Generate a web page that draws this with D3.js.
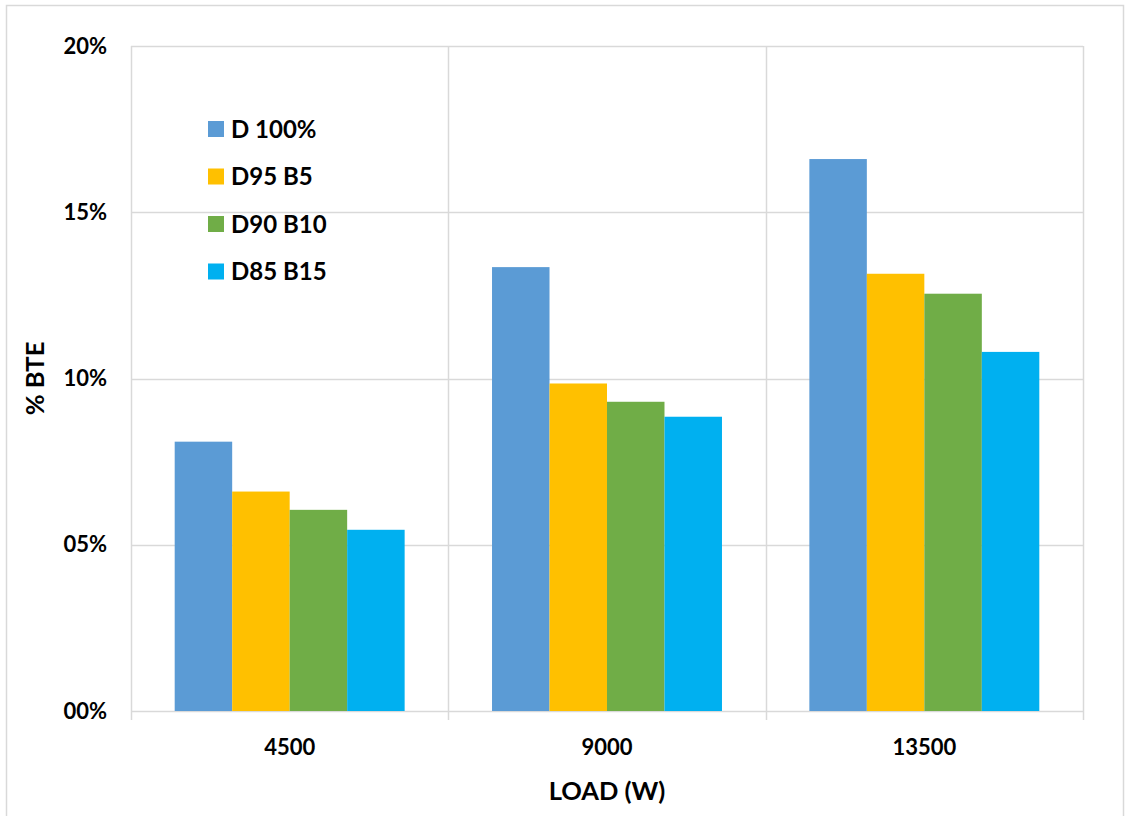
<!DOCTYPE html>
<html>
<head>
<meta charset="utf-8">
<script src="https://cdn.jsdelivr.net/npm/d3@7"></script>
<style>
  html, body { margin: 0; padding: 0; background: #fff; }
  svg { display: block; font-family: Lato, "Open Sans", sans-serif; font-weight: bold; }
</style>
</head>
<body>
<svg id="chart" width="1125" height="816"></svg>
<script>
// Engine load categories (W)
const loads = ["4500", "9000", "13500"];
// Fuel blends
const blends = ["D 100%", "D95 B5", "D90 B10", "D85 B15"];
const blendColors = ["#5B9BD5", "#FFC000", "#70AD47", "#00B0F0"];
// Brake thermal efficiency (%) per blend, one value per load
const bteD100 = [8.1, 13.35, 16.6];
const bteD95B5 = [6.6, 9.85, 13.15];
const bteD90B10 = [6.05, 9.3, 12.55];
const bteD85B15 = [5.45, 8.85, 10.8];
const yTicks = [0, 5, 10, 15, 20];

const series = [bteD100, bteD95B5, bteD90B10, bteD85B15];

const svg = d3.select("#chart");
const W = 1125, H = 816;
const margin = { left: 131, right: 42, top: 46, bottom: 105 };
const plotW = W - margin.left - margin.right;
const plotH = H - margin.top - margin.bottom;
const grid = "#d9d9d9";

// Outer chart border
svg.append("rect")
  .attr("x", 6.5).attr("y", 5.5)
  .attr("width", 1117).attr("height", 830)
  .attr("fill", "none").attr("stroke", grid).attr("stroke-width", 1.5);

const g = svg.append("g").attr("transform", `translate(${margin.left},${margin.top})`);

const x0 = d3.scaleBand().domain(loads).range([0, plotW]).paddingInner(0).paddingOuter(0);
const x1 = d3.scaleBand().domain(blends).range([0, x0.bandwidth()]).paddingInner(0).paddingOuter(0.76);
const y = d3.scaleLinear().domain([0, 20]).range([plotH, 0]);

// Horizontal gridlines
g.append("g").selectAll("line").data(yTicks).join("line")
  .attr("x1", 0).attr("x2", plotW)
  .attr("y1", d => Math.round(y(d)) + 0.5).attr("y2", d => Math.round(y(d)) + 0.5)
  .attr("stroke", grid).attr("stroke-width", 1.5);

// Vertical gridlines at category boundaries, extending below the baseline as ticks
const bounds = loads.map(l => x0(l)).concat([plotW]);
g.append("g").selectAll("line").data(bounds).join("line")
  .attr("x1", d => Math.round(d) + 0.5).attr("x2", d => Math.round(d) + 0.5)
  .attr("y1", 0).attr("y2", plotH + 9)
  .attr("stroke", grid).attr("stroke-width", 1.5);

// Bars
const groups = g.append("g").selectAll("g").data(loads).join("g")
  .attr("transform", d => `translate(${x0(d)},0)`);
groups.selectAll("rect")
  .data((load, i) => blends.map((b, j) => ({ blend: b, value: series[j][i], color: blendColors[j] })))
  .join("rect")
  .attr("x", d => x1(d.blend))
  .attr("width", x1.bandwidth())
  .attr("y", d => y(d.value))
  .attr("height", d => plotH - y(d.value))
  .attr("fill", d => d.color);

// Y axis labels
const yAxis = g.append("g")
  .call(d3.axisLeft(y).tickValues(yTicks).tickSize(0).tickPadding(24)
    .tickFormat(d => d3.format("02d")(d) + "%"));
yAxis.select(".domain").remove();
yAxis.selectAll("text").attr("font-size", 22).attr("font-family", "Lato, sans-serif")
  .attr("font-weight", "bold").attr("fill", "#000");

// X axis labels
const xAxis = g.append("g").attr("transform", `translate(0,${plotH})`)
  .call(d3.axisBottom(x0).tickSize(0).tickPadding(28));
xAxis.select(".domain").remove();
xAxis.selectAll("text").attr("font-size", 22).attr("font-family", "Lato, sans-serif")
  .attr("font-weight", "bold").attr("fill", "#000");

// Axis titles
svg.append("text")
  .attr("x", margin.left + plotW / 2).attr("y", 800)
  .attr("text-anchor", "middle").attr("font-size", 25.5).attr("fill", "#000")
  .text("LOAD (W)");
svg.append("text")
  .attr("transform", `translate(44,${margin.top + plotH / 2}) rotate(-90)`)
  .attr("text-anchor", "middle").attr("font-size", 25.5).attr("fill", "#000")
  .text("% BTE");

// Legend
const legend = svg.append("g").attr("transform", "translate(208,121)");
const li = legend.selectAll("g").data(blends).join("g")
  .attr("transform", (d, i) => `translate(0,${i * 47.5})`);
li.append("rect").attr("width", 16).attr("height", 16)
  .attr("fill", (d, i) => blendColors[i]);
li.append("text").attr("x", 23).attr("y", 16.5)
  .attr("font-size", 24).attr("fill", "#000").text(d => d);
</script>
</body>
</html>
